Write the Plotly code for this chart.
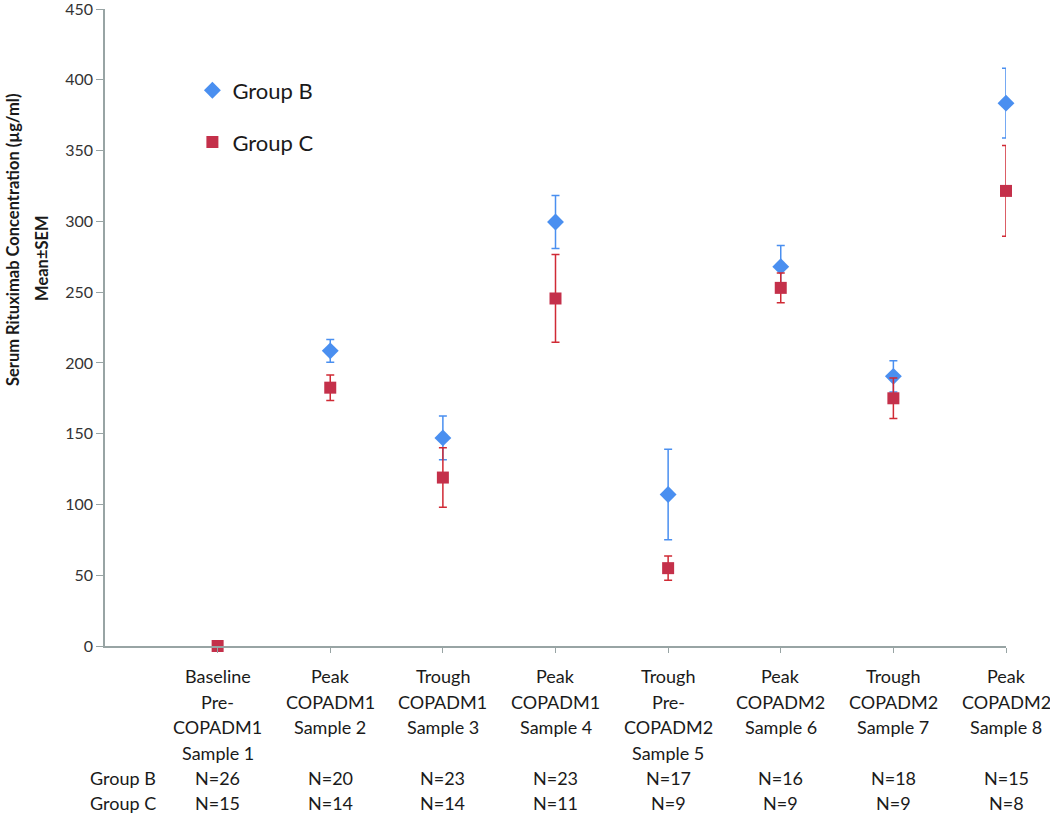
import plotly.graph_objects as go

samples = [1, 2, 3, 4, 5, 6, 7, 8]
category_lines = [
    ["Baseline", "Pre-", "COPADM1", "Sample 1"],
    ["Peak", "COPADM1", "Sample 2"],
    ["Trough", "COPADM1", "Sample 3"],
    ["Peak", "COPADM1", "Sample 4"],
    ["Trough", "Pre-", "COPADM2", "Sample 5"],
    ["Peak", "COPADM2", "Sample 6"],
    ["Trough", "COPADM2", "Sample 7"],
    ["Peak", "COPADM2", "Sample 8"],
]
group_b_mean = [None, 208.5, 147, 299.5, 107, 268, 190.5, 383.5]
group_b_sem = [None, 8, 15.5, 18.7, 32, 15, 11, 24.7]
group_c_mean = [0, 182.5, 119, 245.5, 55, 253, 175, 321.5]
group_c_sem = [None, 9, 21, 31, 8.5, 10.5, 14.3, 32]
group_b_n = [26, 20, 23, 23, 17, 16, 18, 15]
group_c_n = [15, 14, 14, 11, 9, 9, 9, 8]
y_ticks = [0, 50, 100, 150, 200, 250, 300, 350, 400, 450]

blue = "#4a8ff0"
red = "#c4304a"
red_err = "#d02a35"
axis_grey = "#98a4a4"
font_family = "Lato, 'Open Sans', sans-serif"

fig = go.Figure()
fig.add_trace(go.Scatter(
    x=samples, y=group_b_mean, mode="markers", name="Group B",
    marker=dict(symbol="diamond", size=13, color=blue),
    error_y=dict(type="data", array=group_b_sem, visible=True,
                 color=blue, thickness=1.5, width=4),
    legendgroup="b", cliponaxis=False,
))
fig.add_trace(go.Scatter(
    x=samples, y=group_c_mean, mode="markers", name="Group C",
    marker=dict(symbol="square", size=12, color=red),
    error_y=dict(type="data", array=group_c_sem, visible=True,
                 color=red_err, thickness=1.5, width=4),
    legendgroup="c", cliponaxis=False,
))

txt_font = dict(size=18, color="#1a1a1a", family=font_family)
annotations = []
line_offsets = [30, 56, 81, 107]
for xi, lines in zip(samples, category_lines):
    for k, txt in enumerate(lines):
        annotations.append(dict(
            x=xi, xref="x", y=0, yref="paper", yanchor="middle",
            yshift=-line_offsets[k], text=txt, showarrow=False, font=txt_font))
for xi, nb, nc in zip(samples, group_b_n, group_c_n):
    annotations.append(dict(
        x=xi, xref="x", y=0, yref="paper", yanchor="middle", yshift=-132,
        text=f"N={nb}", showarrow=False, font=txt_font))
    annotations.append(dict(
        x=xi, xref="x", y=0, yref="paper", yanchor="middle", yshift=-157,
        text=f"N={nc}", showarrow=False, font=txt_font))
for txt, off in [("Group B", -132), ("Group C", -157)]:
    annotations.append(dict(
        x=-0.0189, xref="paper", xanchor="left", y=0, yref="paper",
        yanchor="middle", yshift=off, text=txt, showarrow=False, font=txt_font))

# y-axis title (two lines)
annotations.append(dict(
    x=-0.102, xref="paper", xanchor="center", y=(646 - 240) / 637, yref="paper",
    yanchor="middle", text="<b>Serum Rituximab Concentration (µg/ml)</b>",
    textangle=-90, showarrow=False,
    font=dict(size=16.5, color="#1a1a1a", family=font_family)))
annotations.append(dict(
    x=-0.07, xref="paper", xanchor="center", y=(646 - 258) / 637, yref="paper",
    yanchor="middle", text="<b>Mean±SEM</b>",
    textangle=-90, showarrow=False,
    font=dict(size=16.5, color="#1a1a1a", family=font_family)))

fig.update_layout(
    width=1050, height=817,
    margin=dict(l=105, r=44, t=9, b=171, autoexpand=False),
    paper_bgcolor="white", plot_bgcolor="white",
    showlegend=True,
    legend=dict(x=0.097, xanchor="left", y=0.905, yanchor="top",
                font=dict(size=22, color="#1a1a1a", family=font_family),
                tracegroupgap=20, bgcolor="rgba(0,0,0,0)"),
    xaxis=dict(range=[0, 8], showline=True, linecolor=axis_grey, linewidth=1.5,
               tickvals=samples, ticks="outside", ticklen=5, tickcolor=axis_grey,
               showticklabels=False, showgrid=False, zeroline=False,
               automargin=False),
    yaxis=dict(range=[0, 450.01], tickmode="array", tickvals=y_ticks,
               showline=True, linecolor=axis_grey,
               linewidth=1.5, ticks="outside", ticklen=7, tickcolor=axis_grey,
               showgrid=False, zeroline=False, ticklabeloverflow="allow",
               automargin=False,
               tickfont=dict(size=16, color="#333333", family=font_family)),
    annotations=annotations,
    font=dict(family=font_family),
)

fig.write_html("out.html", config={"displayModeBar": False},
               post_script="document.body.style.margin='0';")
